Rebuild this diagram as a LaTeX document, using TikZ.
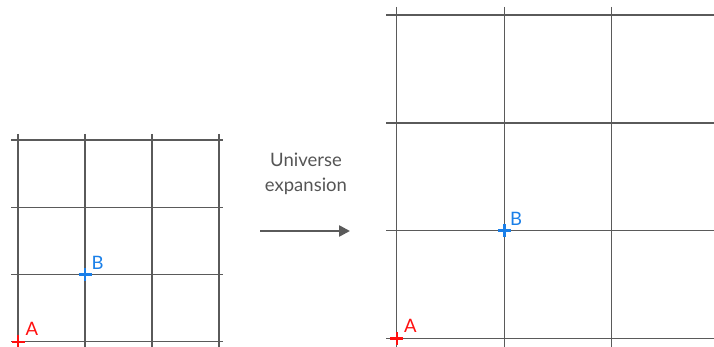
\documentclass[tikz,border=0pt]{standalone}
\usepackage{fontspec}
\setmainfont{Lato}
\usetikzlibrary{arrows.meta}
\definecolor{gridc}{HTML}{5A5A5A}
\definecolor{txtc}{HTML}{555555}
\definecolor{redc}{HTML}{FF1010}
\definecolor{bluec}{HTML}{1A7FE8}
\tikzset{
  gline/.style={draw=gridc, line width=1.1pt},
  crossmark/.style={line width=2.4pt, line cap=butt},
  ptlabel/.style={font=\fontsize{18.5}{18.5}\selectfont, inner sep=0pt, anchor=south west},
}
\begin{document}
\begin{tikzpicture}[x=1pt,y=-1pt]
\useasboundingbox (0,0) rectangle (714,347);
% left grid
\foreach \x in {18,85,152,219} \draw[gline] (\x,134) -- (\x,347);
\foreach \y in {140,207.3,274.3,341.7} \draw[gline] (11,\y) -- (222.5,\y);
% right grid
\foreach \x in {396.7,504.3,611.3} \draw[gline] (\x,7) -- (\x,347);
\foreach \y in {15,123,230.7,338.3} \draw[gline] (386,\y) -- (714,\y);
% points
\coordinate (A1) at (18,341.7);
\coordinate (B1) at (85,274.3);
\coordinate (A2) at (396.7,338.3);
\coordinate (B2) at (504.3,230.7);
\foreach \p/\c in {A1/redc,B1/bluec,A2/redc,B2/bluec}{
  \draw[crossmark,\c] ([xshift=-6.5pt]\p) -- ([xshift=6.5pt]\p);
  \draw[crossmark,\c] ([yshift=-6.5pt]\p) -- ([yshift=6.5pt]\p);
}
\node[ptlabel, text=redc] (la1) at (25.5,336) {A};
\node[ptlabel, text=bluec] (lb1) at (91.5,269.5) {B};
\node[ptlabel, text=redc] (la2) at (404,332.5) {A};
\node[ptlabel, text=bluec] (lb2) at (510,226) {B};
% arrow
\node[text=txtc, font=\fontsize{18.5}{24.5}\selectfont, align=center, inner sep=0pt] (lbl) at (306,174) {Universe\\expansion};
\coordinate (s) at (260,231);
\coordinate (e) at (350,231);
\draw[draw=gridc, line width=2.5pt, -{Triangle[length=11pt,width=11pt]}] (s) -- (e);
\end{tikzpicture}
\end{document}
